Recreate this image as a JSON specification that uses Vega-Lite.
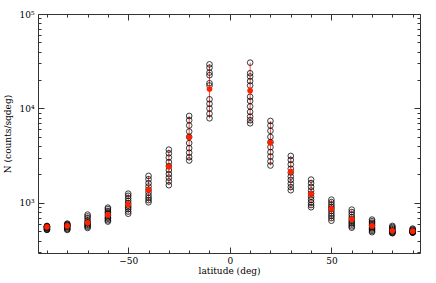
{
  "$schema": "https://vega.github.io/schema/vega-lite/v6.json",
  "autosize": "none",
  "width": 382,
  "height": 239,
  "padding": {"left": 38, "top": 14, "right": 16, "bottom": 30},
  "background": "white",
  "config": {
    "view": {"stroke": null},
    "axis": {
      "domainColor": "#333", "tickColor": "#333", "grid": false,
      "labelFont": "DejaVu Serif", "labelFontSize": 9, "labelColor": "#000",
      "titleFont": "DejaVu Serif", "titleFontSize": 9, "titleColor": "#000", "titleFontWeight": "normal"
    }
  },
  "datasets": {
    "obs": [
      {"lat": -90, "n": 571}, {"lat": -90, "n": 565}, {"lat": -90, "n": 560}, {"lat": -90, "n": 556}, {"lat": -90, "n": 552}, {"lat": -90, "n": 548}, {"lat": -90, "n": 540}, {"lat": -90, "n": 530}, {"lat": -90, "n": 522}, {"lat": -90, "n": 518},
      {"lat": -80, "n": 604}, {"lat": -80, "n": 595}, {"lat": -80, "n": 585}, {"lat": -80, "n": 578}, {"lat": -80, "n": 570}, {"lat": -80, "n": 562}, {"lat": -80, "n": 553}, {"lat": -80, "n": 540}, {"lat": -80, "n": 528}, {"lat": -80, "n": 518},
      {"lat": -70, "n": 752}, {"lat": -70, "n": 720}, {"lat": -70, "n": 690}, {"lat": -70, "n": 650}, {"lat": -70, "n": 625}, {"lat": -70, "n": 605}, {"lat": -70, "n": 590}, {"lat": -70, "n": 575}, {"lat": -70, "n": 560}, {"lat": -70, "n": 543},
      {"lat": -60, "n": 891}, {"lat": -60, "n": 860}, {"lat": -60, "n": 820}, {"lat": -60, "n": 790}, {"lat": -60, "n": 760}, {"lat": -60, "n": 730}, {"lat": -60, "n": 700}, {"lat": -60, "n": 680}, {"lat": -60, "n": 655}, {"lat": -60, "n": 635},
      {"lat": -50, "n": 1253}, {"lat": -50, "n": 1190}, {"lat": -50, "n": 1120}, {"lat": -50, "n": 1050}, {"lat": -50, "n": 990}, {"lat": -50, "n": 940}, {"lat": -50, "n": 900}, {"lat": -50, "n": 860}, {"lat": -50, "n": 810}, {"lat": -50, "n": 769},
      {"lat": -40, "n": 1932}, {"lat": -40, "n": 1780}, {"lat": -40, "n": 1620}, {"lat": -40, "n": 1490}, {"lat": -40, "n": 1380}, {"lat": -40, "n": 1290}, {"lat": -40, "n": 1200}, {"lat": -40, "n": 1130}, {"lat": -40, "n": 1070}, {"lat": -40, "n": 1016},
      {"lat": -30, "n": 3664}, {"lat": -30, "n": 3350}, {"lat": -30, "n": 3020}, {"lat": -30, "n": 2700}, {"lat": -30, "n": 2450}, {"lat": -30, "n": 2230}, {"lat": -30, "n": 2020}, {"lat": -30, "n": 1850}, {"lat": -30, "n": 1690}, {"lat": -30, "n": 1540},
      {"lat": -20, "n": 8330}, {"lat": -20, "n": 7500}, {"lat": -20, "n": 6600}, {"lat": -20, "n": 5700}, {"lat": -20, "n": 5000}, {"lat": -20, "n": 4300}, {"lat": -20, "n": 3800}, {"lat": -20, "n": 3400}, {"lat": -20, "n": 3050}, {"lat": -20, "n": 2810},
      {"lat": -10, "n": 29300}, {"lat": -10, "n": 27000}, {"lat": -10, "n": 24000}, {"lat": -10, "n": 22500}, {"lat": -10, "n": 18500}, {"lat": -10, "n": 17500}, {"lat": -10, "n": 12500}, {"lat": -10, "n": 11200}, {"lat": -10, "n": 10000}, {"lat": -10, "n": 8800}, {"lat": -10, "n": 7870},
      {"lat": 10, "n": 30550}, {"lat": 10, "n": 23600}, {"lat": 10, "n": 21800}, {"lat": 10, "n": 19500}, {"lat": 10, "n": 17500}, {"lat": 10, "n": 13300}, {"lat": 10, "n": 12000}, {"lat": 10, "n": 10500}, {"lat": 10, "n": 9200}, {"lat": 10, "n": 8200}, {"lat": 10, "n": 7500}, {"lat": 10, "n": 6970},
      {"lat": 20, "n": 7380}, {"lat": 20, "n": 6600}, {"lat": 20, "n": 5800}, {"lat": 20, "n": 5000}, {"lat": 20, "n": 4400}, {"lat": 20, "n": 3900}, {"lat": 20, "n": 3450}, {"lat": 20, "n": 3100}, {"lat": 20, "n": 2750}, {"lat": 20, "n": 2489},
      {"lat": 30, "n": 3143}, {"lat": 30, "n": 2850}, {"lat": 30, "n": 2560}, {"lat": 30, "n": 2300}, {"lat": 30, "n": 2100}, {"lat": 30, "n": 1900}, {"lat": 30, "n": 1750}, {"lat": 30, "n": 1600}, {"lat": 30, "n": 1470}, {"lat": 30, "n": 1363},
      {"lat": 40, "n": 1765}, {"lat": 40, "n": 1620}, {"lat": 40, "n": 1480}, {"lat": 40, "n": 1350}, {"lat": 40, "n": 1250}, {"lat": 40, "n": 1160}, {"lat": 40, "n": 1080}, {"lat": 40, "n": 1010}, {"lat": 40, "n": 950}, {"lat": 40, "n": 900},
      {"lat": 50, "n": 1083}, {"lat": 50, "n": 1020}, {"lat": 50, "n": 960}, {"lat": 50, "n": 910}, {"lat": 50, "n": 870}, {"lat": 50, "n": 820}, {"lat": 50, "n": 770}, {"lat": 50, "n": 730}, {"lat": 50, "n": 690}, {"lat": 50, "n": 648},
      {"lat": 60, "n": 849}, {"lat": 60, "n": 800}, {"lat": 60, "n": 750}, {"lat": 60, "n": 705}, {"lat": 60, "n": 670}, {"lat": 60, "n": 640}, {"lat": 60, "n": 615}, {"lat": 60, "n": 590}, {"lat": 60, "n": 565}, {"lat": 60, "n": 547},
      {"lat": 70, "n": 666}, {"lat": 70, "n": 640}, {"lat": 70, "n": 615}, {"lat": 70, "n": 595}, {"lat": 70, "n": 575}, {"lat": 70, "n": 555}, {"lat": 70, "n": 540}, {"lat": 70, "n": 522}, {"lat": 70, "n": 505}, {"lat": 70, "n": 490},
      {"lat": 80, "n": 571}, {"lat": 80, "n": 555}, {"lat": 80, "n": 540}, {"lat": 80, "n": 525}, {"lat": 80, "n": 512}, {"lat": 80, "n": 503}, {"lat": 80, "n": 495}, {"lat": 80, "n": 488}, {"lat": 80, "n": 482}, {"lat": 80, "n": 478},
      {"lat": 90, "n": 535}, {"lat": 90, "n": 525}, {"lat": 90, "n": 515}, {"lat": 90, "n": 507}, {"lat": 90, "n": 500}, {"lat": 90, "n": 496}, {"lat": 90, "n": 492}, {"lat": 90, "n": 489}, {"lat": 90, "n": 486}, {"lat": 90, "n": 484}
    ],
    "avg": [
      {"lat": -90, "n": 557}, {"lat": -80, "n": 571}, {"lat": -70, "n": 617}, {"lat": -60, "n": 747}, {"lat": -50, "n": 964},
      {"lat": -40, "n": 1374}, {"lat": -30, "n": 2421}, {"lat": -20, "n": 4955}, {"lat": -10, "n": 16070},
      {"lat": 10, "n": 15420}, {"lat": 20, "n": 4345}, {"lat": 30, "n": 2143}, {"lat": 40, "n": 1245},
      {"lat": 50, "n": 865}, {"lat": 60, "n": 672}, {"lat": 70, "n": 571}, {"lat": 80, "n": 508}, {"lat": 90, "n": 502}
    ]
  },
  "resolve": {"axis": {"x": "independent", "y": "independent"}},
  "layer": [
    {
      "data": {"name": "obs"},
      "mark": {"type": "rule", "color": "#ff3030", "strokeWidth": 0.9},
      "encoding": {
        "x": {"field": "lat", "type": "quantitative",
          "scale": {"domain": [-94.4, 93.6], "nice": false, "zero": false},
          "axis": {"orient": "bottom", "values": [-50, 0, 50], "tickSize": -6, "labelPadding": 9, "title": "latitude (deg)", "titlePadding": 1, "domainWidth": 1}},
        "y": {"aggregate": "min", "field": "n", "type": "quantitative",
          "scale": {"type": "log", "domain": [295, 100000], "nice": false},
          "axis": {"orient": "left", "values": [1000, 10000, 100000], "tickSize": -6, "labelPadding": 10,
            "labelExpr": "datum.value == 1000 ? '10³' : datum.value == 10000 ? '10⁴' : '10⁵'",
            "title": "N (counts/sqdeg)", "titlePadding": 6}},
        "y2": {"aggregate": "max", "field": "n"}
      }
    },
    {
      "data": {"name": "obs"},
      "mark": {"type": "point", "shape": "circle", "filled": false, "color": "#000", "strokeWidth": 0.85, "size": 32, "opacity": 0.9},
      "encoding": {
        "x": {"field": "lat", "type": "quantitative",
          "axis": {"orient": "bottom", "values": [-90, -80, -70, -60, -40, -30, -20, -10, 10, 20, 30, 40, 60, 70, 80, 90], "tickSize": -3, "labels": false, "domain": false, "title": null}},
        "y": {"field": "n", "type": "quantitative",
          "axis": {"orient": "left", "values": [300, 400, 500, 600, 700, 800, 900, 2000, 3000, 4000, 5000, 6000, 7000, 8000, 9000, 20000, 30000, 40000, 50000, 60000, 70000, 80000, 90000], "tickSize": -3, "labels": false, "domain": false, "title": null}}
      }
    },
    {
      "data": {"name": "avg"},
      "mark": {"type": "point", "shape": "circle", "filled": true, "color": "#ff2200", "size": 32, "opacity": 1},
      "encoding": {
        "x": {"field": "lat", "type": "quantitative",
          "axis": {"orient": "top", "values": [-50, 0, 50], "tickSize": -6, "labels": false, "title": null}},
        "y": {"field": "n", "type": "quantitative",
          "axis": {"orient": "right", "values": [1000, 10000, 100000], "tickSize": -6, "labels": false, "title": null}}
      }
    },
    {
      "data": {"name": "avg"},
      "mark": {"type": "point", "opacity": 0},
      "encoding": {
        "x": {"field": "lat", "type": "quantitative",
          "axis": {"orient": "top", "values": [-90, -80, -70, -60, -40, -30, -20, -10, 10, 20, 30, 40, 60, 70, 80, 90], "tickSize": -3, "labels": false, "domain": false, "title": null}},
        "y": {"field": "n", "type": "quantitative",
          "axis": {"orient": "right", "values": [300, 400, 500, 600, 700, 800, 900, 2000, 3000, 4000, 5000, 6000, 7000, 8000, 9000, 20000, 30000, 40000, 50000, 60000, 70000, 80000, 90000], "tickSize": -3, "labels": false, "domain": false, "title": null}}
      }
    }
  ]
}
